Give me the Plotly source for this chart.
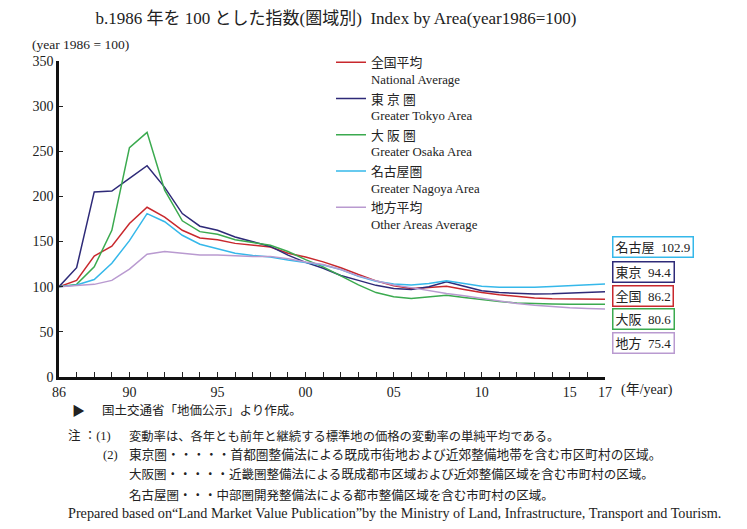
import plotly.graph_objects as go

years = list(range(1986, 2018))
tick_labels = {1986: "86", 1990: "90", 1995: "95", 2000: "00", 2005: "05",
               2010: "10", 2015: "15", 2017: "17"}

national = [100, 107, 134, 145, 170, 188, 177, 162.5, 154, 152, 148, 146, 144, 137,
            133, 127.5, 121, 113.5, 106.5, 101, 98, 99, 100.5, 97, 93.5, 91, 89,
            87.5, 86.8, 86.4, 86.2, 86.2]
tokyo = [100, 121, 205, 206, 220, 234, 210, 181, 167, 162.5, 155, 150, 144.6, 135,
         127, 120.5, 112.5, 107, 101.5, 98, 97, 100, 105.5, 100.5, 95.5, 93.5, 92.5,
         92, 92.2, 92.8, 93.6, 94.4]
osaka = [100, 102.6, 122, 162.5, 254, 271, 207, 173, 161, 158, 152, 149, 146, 139,
         130, 122, 112, 102, 93.5, 89, 87, 88.5, 90.5, 88, 85.5, 83.5, 82, 81.2,
         80.8, 80.6, 80.6, 80.6]
nagoya = [100, 102, 108, 126, 151, 181, 172, 157, 147, 142, 137, 134.7, 133, 129.5,
          127, 124, 119, 111.5, 106, 103, 102, 103.5, 106.5, 103.5, 100.5, 99.5,
          99.3, 99.5, 100.2, 101.2, 102, 102.9]
other = [100, 101, 102.6, 107, 119.5, 136, 139, 137, 135, 135, 134, 133.6, 133.6,
         131, 127.5, 124.5, 119, 112, 106.5, 102, 99, 95.5, 92.5, 90, 87, 84, 81.5,
         79.5, 78, 76.8, 76, 75.4]

series_names = ["全国平均<br>National Average", "東 京 圏<br>Greater Tokyo Area",
                "大 阪 圏<br>Greater Osaka Area", "名古屋圏<br>Greater Nagoya Area",
                "地方平均<br>Other Areas Average"]
series_values = [national, tokyo, osaka, nagoya, other]
series_colors = ["#C8282D", "#2E2A78", "#3BAA4F", "#35B8EA", "#B99AD0"]

end_labels = ["名古屋  102.9", "東京  94.4", "全国  86.2", "大阪  80.6", "地方  75.4"]
end_colors = ["#35B8EA", "#2E2A78", "#C8282D", "#3BAA4F", "#B99AD0"]
end_label_pos = [143.6, 116.3, 89.7, 63.7, 37.7]

FONT = "Liberation Serif, Noto Sans CJK JP"

fig = go.Figure()
for nm, vals, col in zip(series_names, series_values, series_colors):
    fig.add_trace(go.Scatter(x=years, y=vals, mode="lines", name=nm,
                             line=dict(color=col, width=1.5)))

annotations = []
for txt, col, pos in zip(end_labels, end_colors, end_label_pos):
    annotations.append(dict(x=1, xref="paper", y=pos, yref="y", xanchor="left",
                            xshift=7, text=txt, showarrow=False,
                            font=dict(family=FONT, size=13, color="#222"),
                            bordercolor=col, borderwidth=1.5, borderpad=2,
                            bgcolor="white"))

annotations.append(dict(x=1, xref="paper", y=0, yref="y", xanchor="left",
                        yanchor="top", xshift=14, yshift=-3, text="(年/year)",
                        showarrow=False, font=dict(family=FONT, size=14, color="#222")))
annotations.append(dict(x=-0.053, xref="paper", y=1, yref="paper", xanchor="left",
                        yanchor="bottom", yshift=7, text="(year 1986 = 100)",
                        showarrow=False, font=dict(family=FONT, size=13.5, color="#222")))

notes = [
    (70, 411, "▶", 13),
    (100, 411, "国土交通省「地価公示」より作成。", 12.5),
    (66, 436, "注 ：(1)", 12.5),
    (127, 436, "変動率は、各年とも前年と継続する標準地の価格の変動率の単純平均である。", 12.3),
    (101, 455, "(2)", 12.5),
    (127, 455, "東京圏・・・・・首都圏整備法による既成市街地および近郊整備地帯を含む市区町村の区域。", 12.7),
    (127, 475, "大阪圏・・・・・近畿圏整備法による既成都市区域および近郊整備区域を含む市町村の区域。", 12.5),
    (127, 495, "名古屋圏・・・中部圏開発整備法による都市整備区域を含む市町村の区域。", 12.5),
    (66, 513, "Prepared based on“Land Market Value Publication”by the Ministry of Land, Infrastructure, Transport and Tourism.", 14.2),
]
W, H = 747, 529
ML, MR, MT, MB = 59, 142, 61, 152
pw, ph = W - ML - MR, H - MT - MB
for px, py, txt, fs in notes:
    annotations.append(dict(x=(px - ML) / pw, xref="paper", y=(H - MB - py) / ph,
                            yref="paper", xanchor="left", yanchor="middle",
                            text=txt, showarrow=False,
                            font=dict(family=FONT, size=fs, color="#222")))

fig.update_layout(
    width=W, height=H,
    margin=dict(l=ML, r=MR, t=MT, b=MB),
    paper_bgcolor="white", plot_bgcolor="white",
    font=dict(family=FONT, size=13, color="#222"),
    title=dict(text="b.1986 年を 100 とした指数(圏域別)  Index by Area(year1986=100)",
               x=(92 + 580) / 2 / W, xanchor="center", y=1 - 18 / H, yanchor="middle",
               font=dict(family=FONT, size=17, color="#222")),
    showlegend=True,
    legend=dict(x=(331 - ML) / pw, y=1.043, xanchor="left", yanchor="top",
                valign="top", bgcolor="rgba(0,0,0,0)",
                font=dict(family=FONT, size=12.8, color="#222"), itemwidth=30),
    annotations=annotations,
    xaxis=dict(range=[1986, 2017], tickvals=years,
               ticktext=[tick_labels.get(y, "") for y in years],
               ticks="inside", ticklen=5, tickwidth=1, tickcolor="#222",
               showline=True, linecolor="#111", linewidth=2.5, showgrid=False,
               zeroline=False, tickfont=dict(family=FONT, size=14)),
    yaxis=dict(range=[0, 350], tickvals=list(range(0, 351, 50)),
               ticks="inside", ticklen=4, tickwidth=1, tickcolor="#222",
               showline=True, linecolor="#111", linewidth=2.5, showgrid=False,
               zeroline=False, tickfont=dict(family=FONT, size=14)),
)

fig.write_html("out.html")
